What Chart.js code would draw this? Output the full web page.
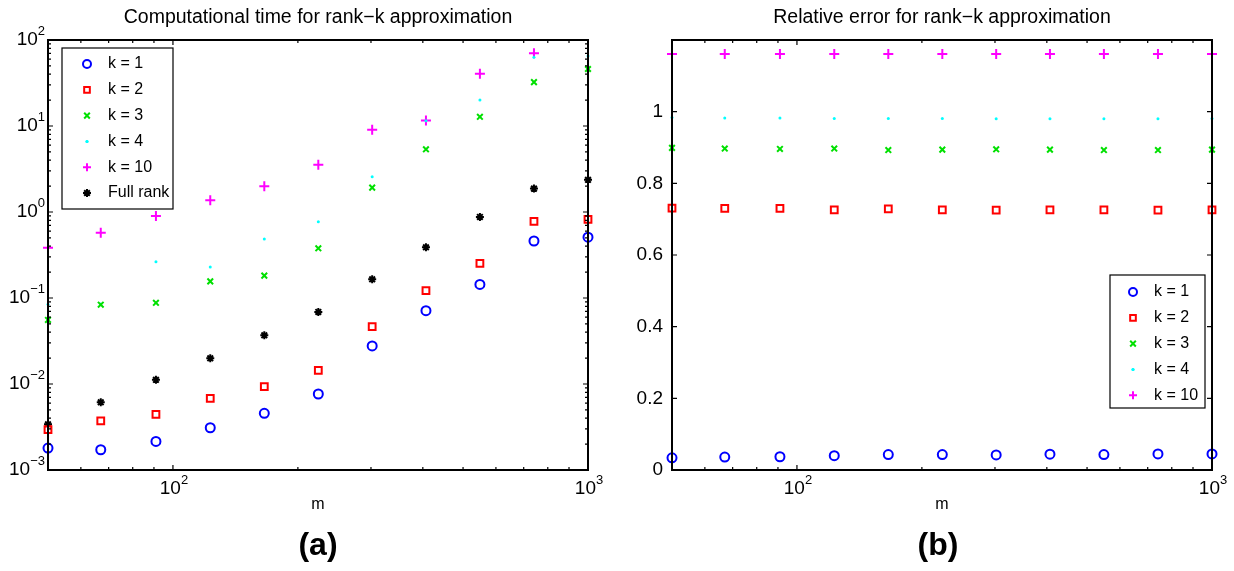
<!DOCTYPE html>
<html>
<head>
<meta charset="utf-8">
<script src="https://cdn.jsdelivr.net/npm/chart.js@4/dist/chart.umd.min.js"></script>
<style>
  body { margin: 0; background: #fff; }
  canvas { position: absolute; top: 0; }
</style>
</head>
<body>
<canvas id="time-chart" width="617" height="571" style="left:0"></canvas>
<canvas id="error-chart" width="617" height="571" style="left:617px"></canvas>
<script>
'use strict';

// matrix sizes m
var mValues = [50, 67, 91, 123, 166, 224, 302, 407, 549, 741, 1000];

// (a) computational time, seconds
var timeK1 = [0.0018, 0.00172, 0.00215, 0.0031, 0.00456, 0.00765, 0.0277, 0.0712, 0.144, 0.46, 0.51];
var timeK2 = [0.00294, 0.00372, 0.00444, 0.00682, 0.0093, 0.0144, 0.0464, 0.1216, 0.253, 0.78, 0.822];
var timeK3 = [0.0555, 0.0836, 0.088, 0.156, 0.182, 0.378, 1.92, 5.36, 12.8, 32.4, 46];
var timeK4 = [0.0845, 0.085, 0.264, 0.229, 0.485, 0.771, 2.57, 11.5, 20, 63, 65];
var timeK10 = [0.385, 0.574, 0.9, 1.37, 1.99, 3.55, 9.06, 11.6, 40.5, 70, null];
var timeFull = [0.0034, 0.00612, 0.0112, 0.0199, 0.0368, 0.0688, 0.165, 0.389, 0.875, 1.87, 2.37];

// (b) relative error
var errK1 = [0.034, 0.036, 0.037, 0.040, 0.043, 0.043, 0.042, 0.044, 0.043, 0.045, 0.045];
var errK2 = [0.731, 0.730, 0.730, 0.726, 0.729, 0.726, 0.725, 0.726, 0.726, 0.725, 0.726];
var errK3 = [0.899, 0.897, 0.896, 0.897, 0.893, 0.894, 0.895, 0.894, 0.893, 0.893, 0.894];
var errK4 = [0.984, 0.982, 0.982, 0.981, 0.981, 0.981, 0.980, 0.980, 0.980, 0.980, 0.981];
var errK10 = [1.161, 1.161, 1.161, 1.161, 1.161, 1.161, 1.161, 1.161, 1.161, 1.161, 1.161];

// axis ticks
var xMajorTicks = [100, 1000];
var xMinorTicks = [60, 70, 80, 90, 200, 300, 400, 500, 600, 700, 800, 900];
var timeMajorTicks = [0.001, 0.01, 0.1, 1, 10, 100];
var errMajorTicks = [0, 0.2, 0.4, 0.6, 0.8, 1];

var FONT = '"Liberation Sans", Arial, Helvetica, sans-serif';

var markerStyles = {
  k1: { pointStyle: 'circle', pointRadius: 4.5, pointBorderColor: '#0000ff', pointBackgroundColor: 'rgba(0,0,0,0)', pointBorderWidth: 2 },
  k2: { pointStyle: 'rect', pointRadius: 4.8, pointBorderColor: '#ff0000', pointBackgroundColor: 'rgba(0,0,0,0)', pointBorderWidth: 2 },
  k3: { pointStyle: 'crossRot', pointRadius: 4, pointBorderColor: '#00e000', pointBackgroundColor: 'rgba(0,0,0,0)', pointBorderWidth: 2 },
  k4: { pointStyle: 'circle', pointRadius: 1.5, pointBorderColor: '#00ffff', pointBackgroundColor: '#00ffff', pointBorderWidth: 0 },
  k10: { pointStyle: 'cross', pointRadius: 5, pointBorderColor: '#ff00ff', pointBackgroundColor: 'rgba(0,0,0,0)', pointBorderWidth: 2 },
  full: { pointStyle: 'star', pointRadius: 4, pointBorderColor: '#000000', pointBackgroundColor: 'rgba(0,0,0,0)', pointBorderWidth: 2 }
};

function makeSet(label, values, style) {
  var points = [];
  for (var i = 0; i < mValues.length; i++) {
    if (values[i] !== null) points.push({ x: mValues[i], y: values[i] });
  }
  return Object.assign({ label: label, data: points, showLine: false, clip: false }, style);
}

function minorLogTicks(lo, hi) {
  var out = [];
  for (var d = lo; d < hi; d *= 10) {
    for (var j = 2; j <= 9; j++) out.push(+(d * j).toPrecision(3));
  }
  return out;
}

function drawPower(ctx, exp, x, y, align) {
  // "10" with raised exponent, x is the anchor, y is the middle of "10"
  var expStr = exp < 0 ? '\u2212' + Math.abs(exp) : String(exp);
  ctx.font = '19px ' + FONT;
  var baseW = ctx.measureText('10').width;
  ctx.font = '13px ' + FONT;
  var expW = ctx.measureText(expStr).width;
  var total = baseW + expW;
  var left = align === 'right' ? x - total : x - total / 2;
  ctx.textAlign = 'left';
  ctx.textBaseline = 'middle';
  ctx.font = '19px ' + FONT;
  ctx.fillText('10', left, y);
  ctx.font = '13px ' + FONT;
  ctx.fillText(expStr, left + baseW, y - 9);
}

var matlabAxes = {
  id: 'matlabAxes',
  afterDatasetsDraw: function(chart, args, opts) {
    var ctx = chart.ctx;
    var area = chart.chartArea;
    var xs = chart.scales.x;
    var ys = chart.scales.y;
    ctx.save();
    ctx.strokeStyle = '#000';
    ctx.fillStyle = '#000';

    // box
    ctx.lineWidth = 2;
    ctx.strokeRect(area.left, area.top, area.right - area.left, area.bottom - area.top);

    // inward ticks
    ctx.lineWidth = 1.2;
    function xTick(v, len) {
      var px = xs.getPixelForValue(v);
      ctx.beginPath();
      ctx.moveTo(px, area.bottom); ctx.lineTo(px, area.bottom - len);
      ctx.moveTo(px, area.top); ctx.lineTo(px, area.top + len);
      ctx.stroke();
    }
    function yTick(v, len) {
      var py = ys.getPixelForValue(v);
      ctx.beginPath();
      ctx.moveTo(area.left, py); ctx.lineTo(area.left + len, py);
      ctx.moveTo(area.right, py); ctx.lineTo(area.right - len, py);
      ctx.stroke();
    }
    xMinorTicks.forEach(function(v) { xTick(v, 3); });
    xMajorTicks.forEach(function(v) { xTick(v, 5); });
    (opts.yMinor || []).forEach(function(v) { yTick(v, 3); });
    opts.yMajor.forEach(function(v) { yTick(v, 5); });

    // x tick labels
    xMajorTicks.forEach(function(v) {
      drawPower(ctx, Math.round(Math.log10(v)), xs.getPixelForValue(v) + 1, area.bottom + 19, 'center');
    });

    // y tick labels
    opts.yMajor.forEach(function(v) {
      var py = ys.getPixelForValue(v);
      if (opts.yLog) {
        drawPower(ctx, Math.round(Math.log10(v)), area.left - 3, py, 'right');
      } else {
        ctx.font = '19px ' + FONT;
        ctx.textAlign = 'right';
        ctx.textBaseline = 'middle';
        ctx.fillText(String(v), area.left - 9, py);
      }
    });

    var cx = (area.left + area.right) / 2;
    // title
    ctx.font = '19.5px ' + FONT;
    ctx.textAlign = 'center';
    ctx.textBaseline = 'middle';
    ctx.fillText(opts.title, cx, 18);
    // x label
    ctx.font = '16px ' + FONT;
    ctx.textBaseline = 'alphabetic';
    ctx.fillText('m', cx, 509);
    // panel label
    ctx.font = 'bold 32px ' + FONT;
    ctx.textBaseline = 'middle';
    ctx.fillText(opts.panel, opts.panelX, 546);

    // legend
    var lg = opts.legend;
    ctx.fillStyle = '#fff';
    ctx.fillRect(lg.x, lg.y, lg.w, lg.h);
    ctx.lineWidth = 1.2;
    ctx.strokeStyle = '#000';
    ctx.strokeRect(lg.x, lg.y, lg.w, lg.h);
    chart.data.datasets.forEach(function(ds, i) {
      var ry = lg.firstRow + i * lg.rowH;
      ctx.strokeStyle = ds.pointBorderColor;
      ctx.fillStyle = ds.pointBackgroundColor;
      ctx.lineWidth = ds.pointBorderWidth;
      Chart.helpers.drawPoint(ctx, {
        pointStyle: ds.pointStyle,
        radius: Math.min(ds.pointRadius, 4),
        rotation: 0,
        borderWidth: ds.pointBorderWidth
      }, lg.markerX, ry);
      if (ds.pointBorderWidth === 0) {
        ctx.beginPath();
        ctx.arc(lg.markerX, ry, ds.pointRadius, 0, Math.PI * 2);
        ctx.fill();
      }
      ctx.fillStyle = '#000';
      ctx.font = '16px ' + FONT;
      ctx.textAlign = 'left';
      ctx.textBaseline = 'middle';
      ctx.fillText(ds.label, lg.textX, ry);
    });
    ctx.restore();
  }
};

var timeChart = new Chart(document.getElementById('time-chart'), {
  type: 'scatter',
  data: {
    datasets: [
      makeSet('k = 1', timeK1, markerStyles.k1),
      makeSet('k = 2', timeK2, markerStyles.k2),
      makeSet('k = 3', timeK3, markerStyles.k3),
      makeSet('k = 4', timeK4, markerStyles.k4),
      makeSet('k = 10', timeK10, markerStyles.k10),
      makeSet('Full rank', timeFull, markerStyles.full)
    ]
  },
  options: {
    responsive: false,
    animation: false,
    devicePixelRatio: 1,
    layout: { padding: { left: 48, right: 29, top: 40, bottom: 101 } },
    scales: {
      x: { type: 'logarithmic', min: 50, max: 1000, display: false },
      y: { type: 'logarithmic', min: 0.001, max: 100, display: false }
    },
    plugins: {
      legend: { display: false },
      tooltip: { enabled: false },
      matlabAxes: {
        title: 'Computational time for rank\u2212k approximation',
        panel: '(a)',
        panelX: 318,
        yLog: true,
        yMajor: timeMajorTicks,
        yMinor: minorLogTicks(0.001, 100),
        legend: { x: 62, y: 48, w: 111, h: 161, firstRow: 64, rowH: 25.8, markerX: 87, textX: 108 }
      }
    }
  },
  plugins: [matlabAxes]
});

var errorChart = new Chart(document.getElementById('error-chart'), {
  type: 'scatter',
  data: {
    datasets: [
      makeSet('k = 1', errK1, markerStyles.k1),
      makeSet('k = 2', errK2, markerStyles.k2),
      makeSet('k = 3', errK3, markerStyles.k3),
      makeSet('k = 4', errK4, markerStyles.k4),
      makeSet('k = 10', errK10, markerStyles.k10)
    ]
  },
  options: {
    responsive: false,
    animation: false,
    devicePixelRatio: 1,
    layout: { padding: { left: 55, right: 22, top: 40, bottom: 101 } },
    scales: {
      x: { type: 'logarithmic', min: 50, max: 1000, display: false },
      y: { type: 'linear', min: 0, max: 1.2, display: false }
    },
    plugins: {
      legend: { display: false },
      tooltip: { enabled: false },
      matlabAxes: {
        title: 'Relative error for rank\u2212k approximation',
        panel: '(b)',
        panelX: 321,
        yLog: false,
        yMajor: errMajorTicks,
        yMinor: [],
        legend: { x: 493, y: 275, w: 95, h: 133, firstRow: 292, rowH: 25.8, markerX: 516, textX: 537 }
      }
    }
  },
  plugins: [matlabAxes]
});
</script>
</body>
</html>
